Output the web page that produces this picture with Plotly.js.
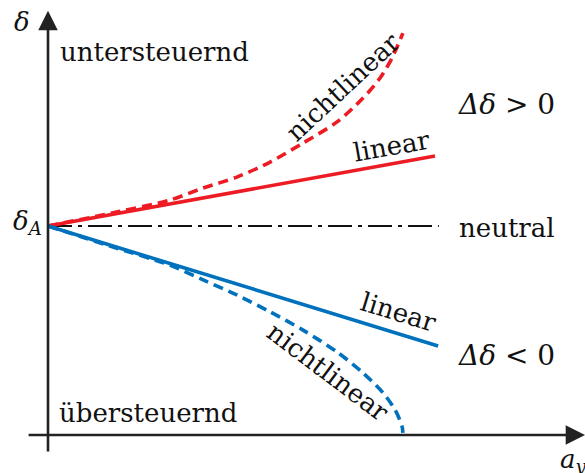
<!DOCTYPE html>
<html>
<head>
<meta charset="utf-8">
<script src="https://cdn.plot.ly/plotly-3.0.1.min.js"></script>
<style>
  html, body { margin: 0; padding: 0; background: #fff; }
  #chart { width: 585px; height: 473px; }
</style>
</head>
<body>
<div id="chart"></div>
<script>
// Steering angle delta over lateral acceleration a_y (normalised, delta_A = 1)
const ayUnderLinear = [0, 1.0];
const deltaUnderLinear = [1.0, 1.335];

const ayNeutral = [0, 1.01];
const deltaNeutral = [1.0, 1.0];

const ayOverLinear = [0, 1.008];
const deltaOverLinear = [1.0, 0.426];

const ayUnderNonlin = [0, 0.186, 0.315, 0.401, 0.488, 0.574, 0.659, 0.747, 0.814, 0.858, 0.889, 0.917];
const deltaUnderNonlin = [1.0, 1.07, 1.124, 1.182, 1.234, 1.306, 1.397, 1.498, 1.612, 1.708, 1.804, 1.923];

const ayOverNonlin = [0, 0.160, 0.315, 0.401, 0.488, 0.574, 0.659, 0.747, 0.814, 0.866, 0.897, 0.915, 0.917];
const deltaOverNonlin = [1.0, 0.904, 0.813, 0.742, 0.670, 0.589, 0.502, 0.397, 0.297, 0.201, 0.120, 0.040, 0.010];

// axis extents (arrow tails and tips) in data units
const xAxisFrom = -0.054, xAxisTo = 1.388;
const yAxisFrom = -0.086, yAxisTo = 2.03;

const RED = '#ED1C24';
const BLUE = '#0072BD';
const INK = '#222222';
const FONT = 'DejaVu Serif, serif';
const W = 585, H = 473;

const traces = [
  { x: ayNeutral, y: deltaNeutral, mode: 'lines',
    line: { color: '#111', width: 1.8, dash: '24px,6px,4px,6px' } },
  { x: ayUnderNonlin, y: deltaUnderNonlin, mode: 'lines',
    line: { color: RED, width: 3.6, dash: '10px,6px', shape: 'spline', smoothing: 0.8 } },
  { x: ayUnderLinear, y: deltaUnderLinear, mode: 'lines',
    line: { color: RED, width: 3.6 } },
  { x: ayOverNonlin, y: deltaOverNonlin, mode: 'lines',
    line: { color: BLUE, width: 3.6, dash: '10px,6px', shape: 'spline', smoothing: 0.8 } },
  { x: ayOverLinear, y: deltaOverLinear, mode: 'lines',
    line: { color: BLUE, width: 3.6 } }
];

// label placed by pixel position on the page
function label(text, px, py, opts) {
  return Object.assign({
    text: text, xref: 'paper', yref: 'paper',
    x: px / W, y: 1 - py / H,
    xanchor: 'center', yanchor: 'middle',
    showarrow: false,
    font: { family: FONT, size: 26, color: '#111' }
  }, opts || {});
}

const annotations = [
  // axes with arrowheads
  { x: xAxisTo, y: 0, ax: xAxisFrom, ay: 0, xref: 'x', yref: 'y', axref: 'x', ayref: 'y',
    text: '', showarrow: true, arrowhead: 2, arrowsize: 1.5, arrowwidth: 2.6, arrowcolor: INK, standoff: 0 },
  { x: 0, y: yAxisTo, ax: 0, ay: yAxisFrom, xref: 'x', yref: 'y', axref: 'x', ayref: 'y',
    text: '', showarrow: true, arrowhead: 2, arrowsize: 1.5, arrowwidth: 2.6, arrowcolor: INK, standoff: 0 },

  label('<i>δ</i>', 22, 22),
  label('<i>δ<sub>A</sub></i>', 44, 222, { xanchor: 'right' }),
  label('<i>a<sub>y</sub></i>', 558, 460, { xanchor: 'left' }),
  label('untersteuernd', 58, 52, { xanchor: 'left' }),
  label('übersteuernd', 57, 413, { xanchor: 'left' }),
  label('neutral', 457, 228, { xanchor: 'left' }),
  label('<i>Δδ</i> &gt; 0', 456, 104, { xanchor: 'left', font: { family: FONT, size: 28, color: '#111' } }),
  label('<i>Δδ</i> &lt; 0', 456, 355, { xanchor: 'left', font: { family: FONT, size: 28, color: '#111' } }),
  label('linear', 392, 146, { textangle: -10 }),
  label('nichtlinear', 343, 87, { textangle: -43 }),
  label('linear', 398, 312, { textangle: 17 }),
  label('nichtlinear', 328, 372, { textangle: 37 })
];

const layout = {
  width: W, height: H,
  margin: { l: 0, r: 0, t: 0, b: 0 },
  paper_bgcolor: '#fff', plot_bgcolor: '#fff',
  showlegend: false,
  xaxis: { range: [-48 / 387, 537 / 387], visible: false, fixedrange: true },
  yaxis: { range: [-38 / 209, 435 / 209], visible: false, fixedrange: true },
  annotations: annotations
};

Plotly.newPlot('chart', traces, layout, { staticPlot: true, displayModeBar: false });
</script>
</body>
</html>
